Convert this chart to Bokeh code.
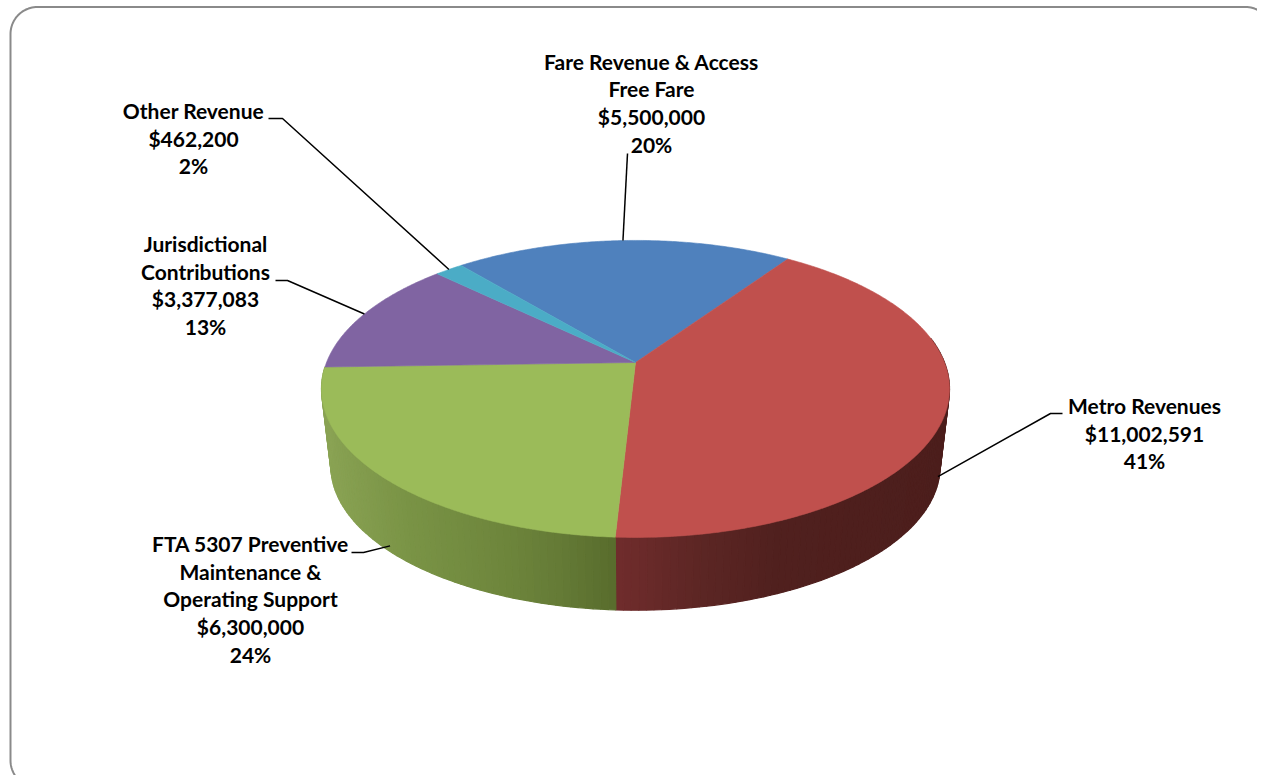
import numpy as np
from bokeh.plotting import figure
from bokeh.models import Range1d
from bokeh.core.properties import value
from bokeh.embed import file_html
from bokeh.resources import INLINE

# ---- data ----
categories = ["Fare Revenue & Access Free Fare", "Metro Revenues",
              "FTA 5307 Preventive Maintenance & Operating Support",
              "Jurisdictional Contributions", "Other Revenue"]
amounts = [5500000, 11002591, 6300000, 3377083, 462200]
percent_labels = ["20%", "41%", "24%", "13%", "2%"]
name_lines = [["Fare Revenue & Access", "Free Fare"], ["Metro Revenues"],
              ["FTA 5307 Preventive", "Maintenance &", "Operating Support"],
              ["Jurisdictional", "Contributions"], ["Other Revenue"]]

# ---- style / layout ----
face_colors = ["#4f81bd", "#c0504d", "#9bbb59", "#8064a2", "#4bacc6"]
W, H = 1257, 775
CX, CY, A, B, K = 635.0, 362.0, 309.0, 143.8, 0.178   # pie projection
DROP, SHRINK = 78.0, 0.97                             # base of the pie
START_DEG = -39.9
FONT, FSIZE, LINE_H = "Lato", "21px", 27.7
# label centre x, first line y, elbow end x, elbow knee x, elbow y, wall fraction
label_layout = [
    (651, 60.5, 627, 627, 153, 0.0),
    (1144, 405, 1062, 1050, 413, 0.85),
    (250, 543, 351, 363, 552, 0.92),
    (205, 243, 275, 287, 280, 0.0),
    (193, 110, 268, 282, 118, 0.0),
]


def rim(theta_deg, drop=0.0, scale=1.0):
    t = np.radians(theta_deg)
    d = 1 + K * np.cos(t)
    return (CX + scale * A * np.sin(t) / d,
            CY + drop - scale * B * np.cos(t) / d)


def rim_pt(theta_deg, wall=0.0):
    xa, ya = rim(theta_deg)
    xb, yb = rim(theta_deg, DROP, SHRINK)
    return xa + (xb - xa) * wall, ya + (yb - ya) * wall


def ramp(xs, stops):
    sx = [s[0] for s in stops]
    return ["#%02x%02x%02x" % tuple(int(round(np.interp(x, sx, [s[1][i] for s in stops])))
                                    for i in range(3)) for x in xs]


p = figure(width=W, height=H, output_backend="svg", toolbar_location=None,
           x_range=Range1d(0, W), y_range=Range1d(H, 0),
           min_border=0, outline_line_color=None)
p.axis.visible = False
p.grid.visible = False
p.background_fill_color = "white"
p.border_fill_color = "white"

# rounded frame
L, T, R_, Bt, rad = 10.0, 6.5, 1272.0, 787.0, 27.0
arc = np.radians(np.linspace(0, 90, 24))
fx = np.concatenate([L + rad - rad * np.cos(arc), R_ - rad + rad * np.sin(arc),
                     R_ - rad + rad * np.cos(arc), L + rad - rad * np.sin(arc), [L]])
fy = np.concatenate([T + rad - rad * np.sin(arc), T + rad - rad * np.cos(arc),
                     Bt - rad + rad * np.sin(arc), Bt - rad + rad * np.cos(arc), [T + rad]])
p.line(fx, fy, line_color="#8a8a8a", line_width=2)

# slice angles from the values
total = sum(amounts)
sweep = [a / total * 360 for a in amounts]
edges = START_DEG + np.concatenate([[0], np.cumsum(sweep)])
mids = (edges[:-1] + edges[1:]) / 2

# side wall strips
wall_ramps = {
    1: [(616, (112, 44, 44)), (700, (92, 38, 36)), (780, (80, 32, 30)), (950, (76, 30, 28))],
    2: [(321, (138, 163, 84)), (400, (122, 148, 70)), (500, (110, 134, 60)),
        (560, (100, 122, 54)), (616, (88, 108, 44))],
}
wall_spans = {1: (80.0, edges[2]), 2: (edges[2], edges[3])}
for idx in (1, 2):
    a0, a1 = wall_spans[idx]
    steps = np.linspace(a0, a1, int((a1 - a0) / 1.2) + 2)
    xs, ys, mid_x = [], [], []
    for t0, t1 in zip(steps[:-1], steps[1:]):
        x0, y0 = rim(t0)
        x1, y1 = rim(t1)
        x2, y2 = rim(t1, DROP, SHRINK)
        x3, y3 = rim(t0, DROP, SHRINK)
        xs.append([x0, x1, x2, x3])
        ys.append([y0, y1, y2, y3])
        mid_x.append((x0 + x1) / 2)
    cols = ramp(mid_x, wall_ramps[idx])
    p.patches(xs, ys, fill_color=cols, line_color=cols, line_width=1.2)

# top faces
for i in range(len(amounts)):
    th = np.linspace(edges[i], edges[i + 1], max(int(sweep[i]), 4) * 2)
    rx, ry = rim(th)
    p.patch(np.concatenate([[CX], rx]), np.concatenate([[CY], ry]),
            fill_color=face_colors[i], line_color=face_colors[i], line_width=0.6)

# labels and leader lines
for i, (cx, y0, ex, kx, ey, wall) in enumerate(label_layout):
    lines = name_lines[i] + ["$" + format(amounts[i], ",d"), percent_labels[i]]
    for j, s in enumerate(lines):
        p.text([cx], [y0 + j * LINE_H], text=[s], text_align="center",
               text_baseline="middle", text_color="#000000",
               text_font=value(FONT), text_font_style="bold", text_font_size=FSIZE)
    tx, ty = rim_pt(mids[i], wall)
    p.line([ex, kx, tx], [ey, ey, ty], line_color="#000000", line_width=1.5)

open("out.html", "w").write(file_html(p, INLINE))
